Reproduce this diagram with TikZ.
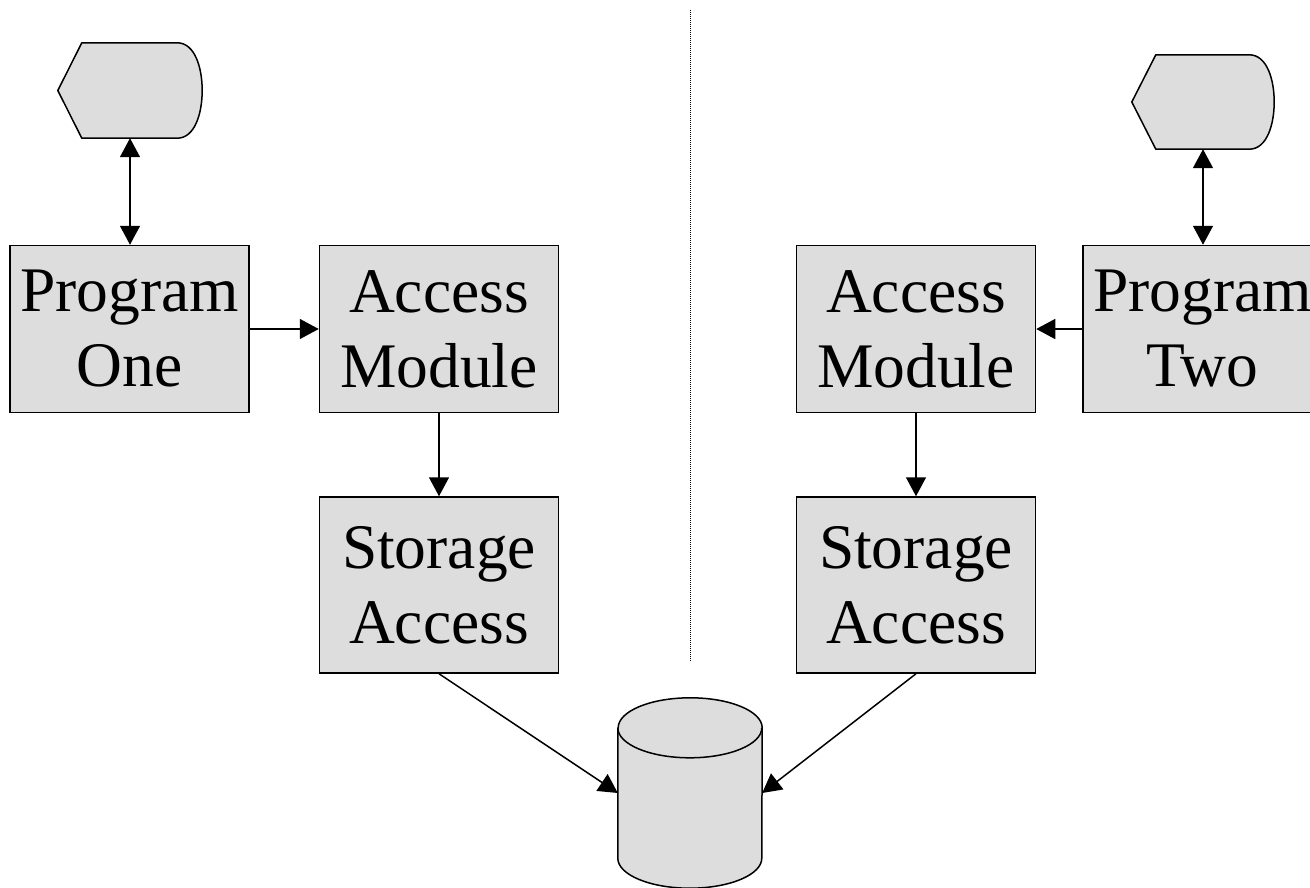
\documentclass[tikz,border=0pt]{standalone}
\usepackage{fontspec}
\setmainfont{Liberation Serif}
\usetikzlibrary{arrows.meta}
\definecolor{boxgray}{HTML}{DDDDDD}

% display symbol: pointed left side, rounded right side
\newcommand\displayshape[1]{%
  \draw[shapeline] (#1.west) -- ([xshift=24pt]#1.north west)
    -- ([xshift=-25pt]#1.north east)
    .. controls ([xshift=-7pt]#1.north east) and ([yshift=22pt]#1.east) .. (#1.east)
    .. controls ([yshift=-22pt]#1.east) and ([xshift=-7pt]#1.south east) .. ([xshift=-25pt]#1.south east)
    -- ([xshift=24pt]#1.south west) -- cycle;}

\begin{document}
\begin{tikzpicture}[x=1pt,y=-1pt,
  module/.style={draw, line width=1.5pt, fill=boxgray, minimum width=239pt,
    minimum height=167pt, inner sep=0pt, align=center,
    font=\fontsize{63.5}{75}\selectfont},
  tallmodule/.style={module, minimum height=176pt},
  frame/.style={minimum width=#1, inner sep=0pt},
  shapeline/.style={draw, line width=1.5pt, fill=boxgray, line join=round},
  link/.style={line width=1.5pt, -{Triangle[length=19pt,width=20pt]}},
  dlink/.style={line width=1.5pt, {Triangle[length=19pt,width=20pt]}-{Triangle[length=19pt,width=20pt]}},
  divider/.style={line width=0.8pt, dash pattern=on 1pt off 1pt}]
\clip (0,0) rectangle (1310,888);

% left side
\node[module] (p1) at (129.5,329) {Program\\One};
\node[module] (a1) at (439,329) {Access\\Module};
\node[tallmodule] (s1) at (439,585) {Storage\\Access};
\node[frame=144pt, minimum height=95pt] (d1) at (130,90.5) {};
\displayshape{d1}

% right side
\node[module] (a2) at (916,329) {Access\\Module};
\node[module] (p2) at (1202.5,329) {Program\\Two};
\node[tallmodule] (s2) at (916,585) {Storage\\Access};
\node[frame=142pt, minimum height=94pt] (d2) at (1203,102) {};
\displayshape{d2}

% shared data store
\node[frame=144pt, minimum height=190pt] (db) at (690,793) {};
\draw[shapeline] ([yshift=-30pt]db.north west) -- ([yshift=30pt]db.south west)
  arc[start angle=180, end angle=360, x radius=72pt, y radius=30pt]
  -- ([yshift=-30pt]db.north east)
  arc[start angle=0, end angle=180, x radius=72pt, y radius=30pt] -- cycle;
\draw[line width=1.5pt] ([yshift=-30pt]db.north west)
  arc[start angle=180, end angle=360, x radius=72pt, y radius=30pt];

% divider
\coordinate (divtop) at (690,10);
\coordinate (divbot) at (690,662);
\draw[divider] (divtop) -- (divbot);

% connectors
\draw[dlink] (d1.south) -- (d1.south |- p1.north);
\draw[link] (p1) -- (a1);
\draw[link] (a1) -- (s1);
\draw[link] (s1.south) -- (db.west);

\draw[dlink] (d2.south) -- (d2.south |- p2.north);
\draw[link] (p2) -- (a2);
\draw[link] (a2) -- (s2);
\draw[link] (s2.south) -- (db.east);
\end{tikzpicture}
\end{document}
